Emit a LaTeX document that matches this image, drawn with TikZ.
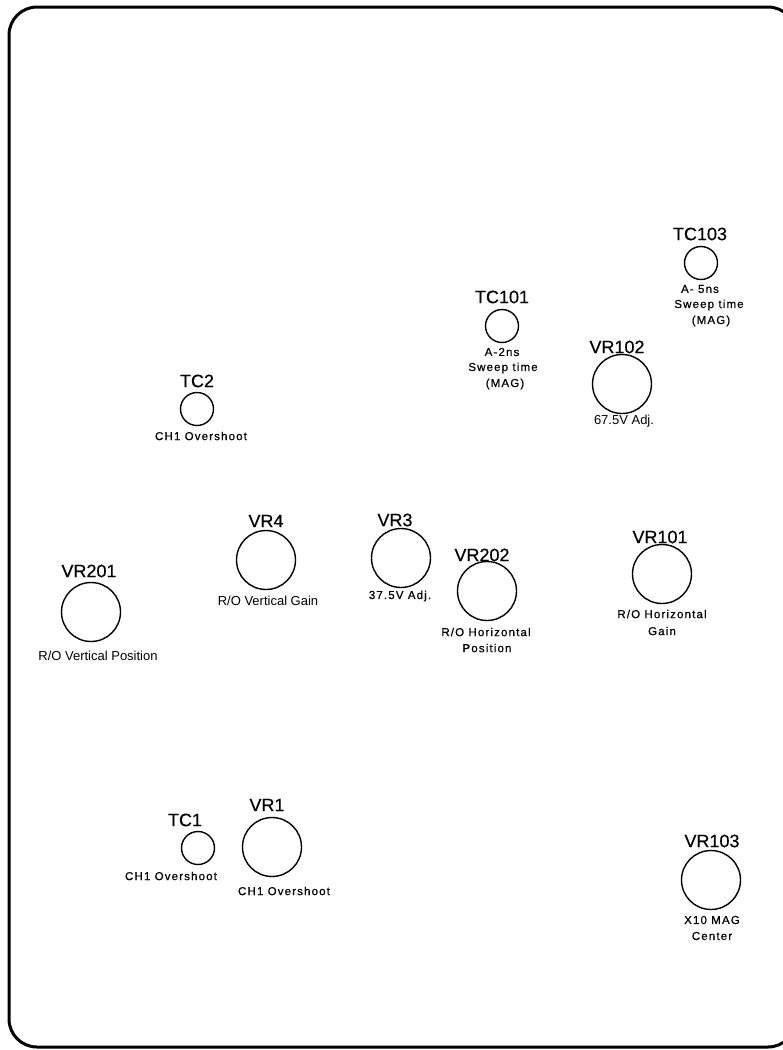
\documentclass[tikz,border=0pt]{standalone}
\usepackage{fontspec}
\setmainfont{Liberation Sans}
\newfontfamily\ttlfont[FakeBold=0.3]{Liberation Sans}
\newfontfamily\spfont[LetterSpace=10,FakeBold=0.6]{Liberation Sans}
\begin{document}
\begin{tikzpicture}[x=1pt,y=-1pt,
  pot/.style={circle,draw,line width=1.4pt,minimum size=59pt,inner sep=0pt},
  trim/.style={circle,draw,line width=1.4pt,minimum size=33pt,inner sep=0pt},
  ttl/.style={font=\ttlfont\fontsize{18}{20}\selectfont,inner sep=0pt},
  lbl/.style={font=\fontsize{13}{15}\selectfont,inner sep=0pt},
  splbl/.style={font=\spfont\fontsize{11.5}{14}\selectfont,inner sep=0pt}]
\useasboundingbox (0,0) rectangle (783,1050);
\fill[white] (0,0) rectangle (783,1050);
\draw[line width=3pt,rounded corners=28pt] (9,7) rectangle (796,1047);
% components
\node[trim] (tc103) at (701,263) {};
\node[trim] (tc101) at (502,326) {};
\node[pot]  (vr102) at (622,384) {};
\node[trim] (tc2)   at (197,409) {};
\node[pot]  (vr4)   at (266,560) {};
\node[pot]  (vr3)   at (401,558) {};
\node[pot]  (vr202) at (487,591) {};
\node[pot]  (vr101) at (662,574) {};
\node[pot]  (vr201) at (91,612) {};
\node[trim] (tc1)   at (198,848) {};
\node[pot]  (vr1)   at (272,847) {};
\node[pot]  (vr103) at (711,880) {};
% titles
\node[ttl] (t-tc103) at (700,234) {TC103};
\node[ttl] (t-tc101) at (502,297) {TC101};
\node[ttl] (t-vr102) at (617,347) {VR102};
\node[ttl] (t-tc2)   at (197,381) {TC2};
\node[ttl] (t-vr4)   at (266,521) {VR4};
\node[ttl] (t-vr3)   at (395,520) {VR3};
\node[ttl] (t-vr202) at (482,555) {VR202};
\node[ttl] (t-vr101) at (660,537) {VR101};
\node[ttl] (t-vr201) at (89,571)  {VR201};
\node[ttl] (t-vr1)   at (267,805) {VR1};
\node[ttl] (t-tc1)   at (185,820) {TC1};
\node[ttl] (t-vr103) at (712,841) {VR103};
% labels
\node[splbl] (l-tc103a) at (700,289) {A- 5ns};
\node[splbl] (l-tc103b) at (709,305) {Sweep time};
\node[splbl] (l-tc103c) at (711,321) {(MAG)};
\node[splbl] (l-tc101a) at (502,352) {A-2ns};
\node[splbl] (l-tc101b) at (503,368) {Sweep time};
\node[splbl] (l-tc101c) at (505,384) {(MAG)};
\node[lbl]   (l-vr102)  at (624,421) {67.5V Adj.};
\node[splbl] (l-tc2)    at (201,436) {CH1 Overshoot};
\node[lbl]   (l-vr4)    at (268,601) {R/O Vertical Gain};
\node[splbl] (l-vr3)    at (400,596) {37.5V Adj.};
\node[splbl] (l-vr202a) at (486,632) {R/O Horizontal};
\node[splbl] (l-vr202b) at (487,648) {Position};
\node[splbl] (l-vr101a) at (662,614) {R/O Horizontal};
\node[splbl] (l-vr101b) at (662,631) {Gain};
\node[lbl]   (l-vr201)  at (98,656)  {R/O Vertical Position};
\node[splbl] (l-tc1)    at (171,876) {CH1 Overshoot};
\node[splbl] (l-vr1)    at (284,891) {CH1 Overshoot};
\node[splbl] (l-vr103a) at (712,920) {X10 MAG};
\node[splbl] (l-vr103b) at (712,936) {Center};
\end{tikzpicture}
\end{document}
